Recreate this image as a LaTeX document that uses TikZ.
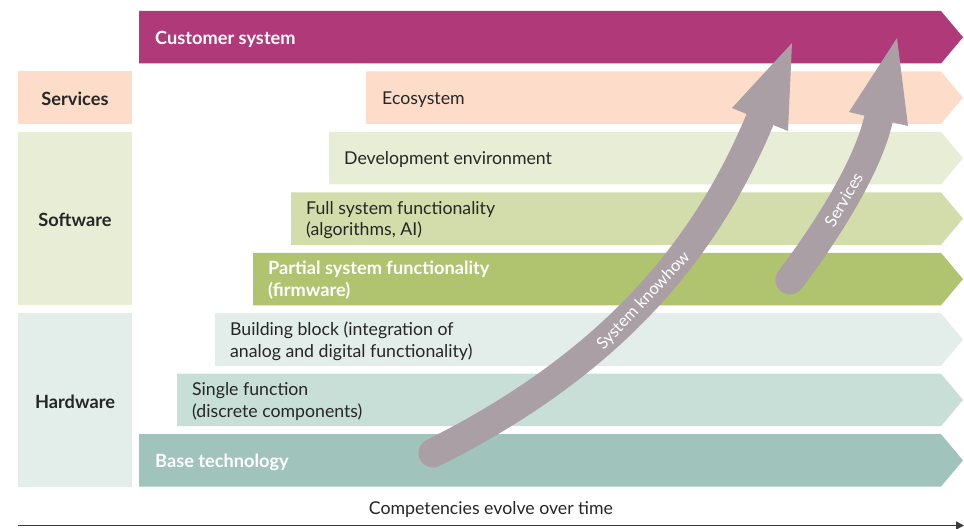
\documentclass[tikz,border=0pt]{standalone}
\usepackage{fontspec}
\setmainfont{Lato}
\usetikzlibrary{arrows.meta}
\definecolor{cmag}{RGB}{176,57,122}
\definecolor{cpeach}{RGB}{253,221,201}
\definecolor{cgreenA}{RGB}{232,237,214}
\definecolor{cgreenB}{RGB}{210,221,171}
\definecolor{cgreenC}{RGB}{176,196,111}
\definecolor{ctealA}{RGB}{227,237,234}
\definecolor{ctealB}{RGB}{200,223,216}
\definecolor{ctealC}{RGB}{160,196,188}
\definecolor{arrowgray}{RGB}{170,159,164}
\definecolor{textdark}{RGB}{38,38,38}
\definecolor{axisgray}{RGB}{60,60,60}
\newcommand\bandshape[3]{\fill[#3] (#1,#2) -- (941,#2) -- (963,{#2+26.25}) -- (941,{#2+52.5}) -- (#1,{#2+52.5}) -- cycle;}
\begin{document}
\begin{tikzpicture}[x=1pt,y=-1pt,
  txt/.style={anchor=west, align=left, font=\fontsize{17.7}{21.7}\selectfont, text=textdark, inner sep=0pt},
  btxt/.style={anchor=west, align=left, font=\fontsize{18.2}{21.7}\selectfont\bfseries, text=white, inner sep=0pt},
  lbl/.style={anchor=center, font=\fontsize{18.2}{21.7}\selectfont\bfseries, text=textdark, inner sep=0pt},
  shaft/.style={line width=29pt, line cap=round, draw=arrowgray},
  arrtxt/.style={font=\fontsize{16.5}{19}\selectfont, text=white, inner sep=0pt},
  axisline/.style={line width=1.5pt, draw=axisgray, -{Triangle[length=8pt,width=8pt]}}]
\useasboundingbox (0,0) rectangle (964,529);
% left category boxes
\fill[cpeach] (18,71.45) rectangle (132,123.95);
\fill[cgreenA] (18,131.9) rectangle (132,305.3);
\fill[ctealA] (18,313.25) rectangle (132,486.65);
% bands
\bandshape{139}{11}{cmag}
\bandshape{366}{71.45}{cpeach}
\bandshape{329}{131.9}{cgreenA}
\bandshape{291}{192.35}{cgreenB}
\bandshape{253}{252.8}{cgreenC}
\bandshape{215}{313.25}{ctealA}
\bandshape{177}{373.7}{ctealB}
\bandshape{139}{434.15}{ctealC}
% texts
\node[btxt] (tcust) at (155,39) {Customer system};
\node[lbl] (tserv) at (75,99.2) {Services};
\node[txt] (teco) at (382,99.5) {Ecosystem};
\node[txt] (tdev) at (344,159.9) {Development environment};
\node[txt] (tfull) at (306,220) {Full system functionality\\(algorithms, AI)};
\node[btxt] (tpart) at (268,280.5) {Partial system functionality\\(firmware)};
\node[txt] (tbuild) at (230,341) {Building block (integration of\\analog and digital functionality)};
\node[txt] (tsingle) at (192,401.4) {Single function\\(discrete components)};
\node[btxt] (tbase) at (155,462.2) {Base technology};
\node[lbl] (tsoft) at (75,220) {Software};
\node[lbl] (thard) at (75,401.5) {Hardware};
\node[txt,anchor=center] (tcomp) at (491,509.5) {Competencies evolve over time};
% axis
\coordinate (axl) at (18,525.5);
\coordinate (axr) at (964,525.5);
\draw[axisline] (axl) -- (axr);
% arrow 1
\coordinate (a1s) at (433,453);
\coordinate (a1c1) at (613,363);
\coordinate (a1c2) at (706,249);
\coordinate (a1b) at (760,119.5);
\coordinate (a1t) at (792,43);
\coordinate (a1l) at (732,108);
\coordinate (a1r) at (788,131);
\draw[shaft] (a1s) .. controls (a1c1) and (a1c2) .. (a1b) node[pos=0.5, sloped, arrtxt] (tknow) {System knowhow};
\fill[arrowgray] (a1l) -- (a1t) -- (a1r) -- cycle;
% arrow 2
\coordinate (a2s) at (790,280);
\coordinate (a2c1) at (826,232);
\coordinate (a2c2) at (867.4,167.8);
\coordinate (a2b) at (878.5,119);
\coordinate (a2t) at (897,38);
\coordinate (a2l) at (849,112);
\coordinate (a2r) at (908,126);
\draw[shaft] (a2s) .. controls (a2c1) and (a2c2) .. (a2b) node[pos=0.5, sloped, arrtxt] (tsvc) {Services};
\fill[arrowgray] (a2l) -- (a2t) -- (a2r) -- cycle;
\end{tikzpicture}
\end{document}
